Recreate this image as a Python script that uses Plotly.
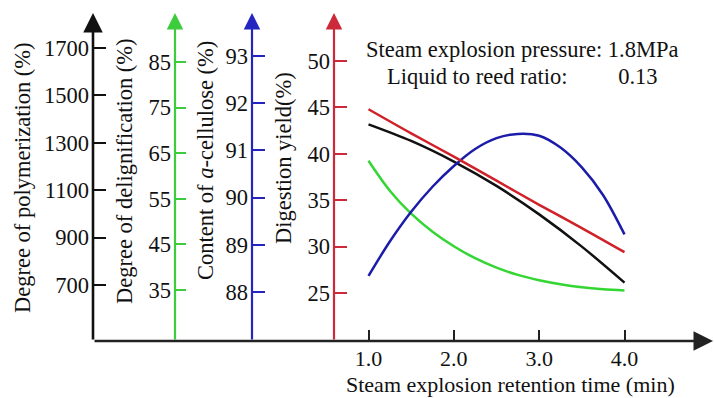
import plotly.graph_objects as go

# ---------------- data ----------------
x_black = [1.0, 1.5, 2.0, 2.5, 3.0, 3.5, 4.0]
polymerization = [1378, 1308, 1221, 1118, 998, 862, 710]

x_red = [1.0, 1.5, 2.0, 2.5, 3.0, 3.5, 4.0]
digestion_yield = [44.8, 42.2, 39.7, 37.1, 34.5, 32.0, 29.4]

x_q = [1.0, 1.25, 1.5, 1.75, 2.0, 2.25, 2.5, 2.75, 3.0, 3.25, 3.5, 3.75, 4.0]
delignification = [63.36, 56.78, 51.73, 47.78, 44.60, 41.97, 39.89, 38.31, 37.15, 36.27, 35.61, 35.18, 34.91]
alpha_cellulose = [88.34, 89.07, 89.70, 90.23, 90.67, 91.03, 91.26, 91.35, 91.31, 91.06, 90.64, 90.05, 89.22]

x_ticks = [1.0, 2.0, 3.0, 4.0]
x_ticklabels = ["1.0", "2.0", "3.0", "4.0"]
poly_ticks = [700, 900, 1100, 1300, 1500, 1700]
delig_ticks = [35, 45, 55, 65, 75, 85]
alpha_ticks = [88, 89, 90, 91, 92, 93]
yield_ticks = [25, 30, 35, 40, 45, 50]

# ---------------- layout geometry ----------------
W, H = 714, 398
BASE = 341  # baseline pixel (from top)
FONT = "Liberation Serif"
FS = 22.5

def yrange(v_hi, px_hi, v_lo, px_lo):
    per = (v_hi - v_lo) / (px_lo - px_hi)
    return [v_lo - (BASE - px_lo) * per, v_hi + px_hi * per]

x_per = 3.0 / (624.5 - 368.5)
xr = [1.0 - 368.5 * x_per, 1.0 + (W - 368.5) * x_per]

ax_black, ax_green, ax_blue, ax_red = 93, 175, 252, 334
dom = [(H - BASE) / H, 1.0]

c_black = "#111111"
c_green = "#33d633"
c_blue = "#1c1caa"
c_red = "#d02028"
c_green_ax = "#3ccc3c"
c_blue_ax = "#2424c0"
c_red_ax = "#cc2a3a"

fig = go.Figure()
lw = 2.5
sm = 0.9
fig.add_trace(go.Scatter(x=x_black, y=polymerization, mode="lines", line=dict(color=c_black, width=lw, shape="spline", smoothing=sm), yaxis="y"))
fig.add_trace(go.Scatter(x=x_q, y=delignification, mode="lines", line=dict(color=c_green, width=lw, shape="spline", smoothing=sm), yaxis="y2"))
fig.add_trace(go.Scatter(x=x_q, y=alpha_cellulose, mode="lines", line=dict(color=c_blue, width=lw, shape="spline", smoothing=sm), yaxis="y3"))
fig.add_trace(go.Scatter(x=x_red, y=digestion_yield, mode="lines", line=dict(color=c_red, width=lw, shape="spline", smoothing=sm), yaxis="y4"))

tickfont = dict(family=FONT, size=FS, color="#111")

def yax(rng, pos, ticks, color, tlen=11):
    return dict(range=rng, domain=dom, anchor="free", position=pos,
                tickmode="array", tickvals=ticks, ticktext=[str(t) for t in ticks],
                ticks="inside", ticklen=tlen, tickwidth=2, tickcolor=color,
                showline=False, showgrid=False, zeroline=False, side="left",
                tickfont=tickfont, ticklabelstandoff=4, fixedrange=True)

y1 = yax(yrange(1700, 48, 700, 285), ax_black / W, poly_ticks, c_black, 12)
y2 = yax(yrange(85, 62, 35, 290), ax_green / W, delig_ticks, c_green_ax, 10)
y2["overlaying"] = "y"
y3 = yax(yrange(93, 56, 88, 292), ax_blue / W, alpha_ticks, c_blue_ax, 12)
y3["overlaying"] = "y"
y4 = yax(yrange(50, 61, 25, 293), ax_red / W, yield_ticks, c_red_ax, 12)
y4["overlaying"] = "y"

fig.update_layout(
    width=W, height=H, margin=dict(l=0, r=0, t=0, b=0),
    paper_bgcolor="white", plot_bgcolor="white", showlegend=False,
    xaxis=dict(range=xr, domain=[0, 1], anchor="y", tickmode="array", tickvals=x_ticks,
               ticktext=x_ticklabels, ticks="inside", ticklen=11, tickwidth=2, tickcolor="#222",
               showline=False, showgrid=False, zeroline=False,
               tickfont=dict(family=FONT, size=22, color="#111"),
               ticklabelstandoff=2, fixedrange=True),
    yaxis=y1, yaxis2=y2, yaxis3=y3, yaxis4=y4,
)

def arrow_up(xpx, color, width):
    fig.add_annotation(x=xpx / W, y=(H - 13) / H, xref="paper", yref="paper", text="",
                       showarrow=True, ax=0, ay=BASE - 13, axref="pixel", ayref="pixel",
                       arrowhead=2, arrowsize=1.5, arrowwidth=width, arrowcolor=color, standoff=0)

arrow_up(ax_black, c_black, 2.6)
arrow_up(ax_green, c_green_ax, 2.2)
arrow_up(ax_blue, c_blue_ax, 2.2)
arrow_up(ax_red, c_red_ax, 2.2)
fig.add_annotation(x=713 / W, y=(H - BASE) / H, xref="paper", yref="paper", text="",
                   showarrow=True, ax=-(713 - ax_black), ay=0, arrowhead=2, arrowsize=1.5,
                   arrowwidth=2.6, arrowcolor="#222", standoff=0)

def label(text, xpx, ypx, angle=0, size=FS, pad=1):
    fig.add_annotation(x=xpx / W, y=(H - ypx) / H, xref="paper", yref="paper", text=text,
                       showarrow=False, textangle=angle, xanchor="center", yanchor="middle",
                       borderpad=pad, font=dict(family=FONT, size=size, color="#111"))

label("Degree of polymerization (%)", 22, 178, -90)
label("Degree of delignification (%)", 124, 171, -90)
label("Content of <i>a</i>-cellulose (%)", 205, 160, -90)
label("Digestion yield(%)", 283, 158, -90)
label("Steam explosion retention time (min)", 510, 384.5, size=22, pad=0)
label("Steam explosion pressure: 1.8MPa", 522, 50)
label("Liquid to reed ratio:         0.13", 522, 76)

fig.write_html("out.html")
